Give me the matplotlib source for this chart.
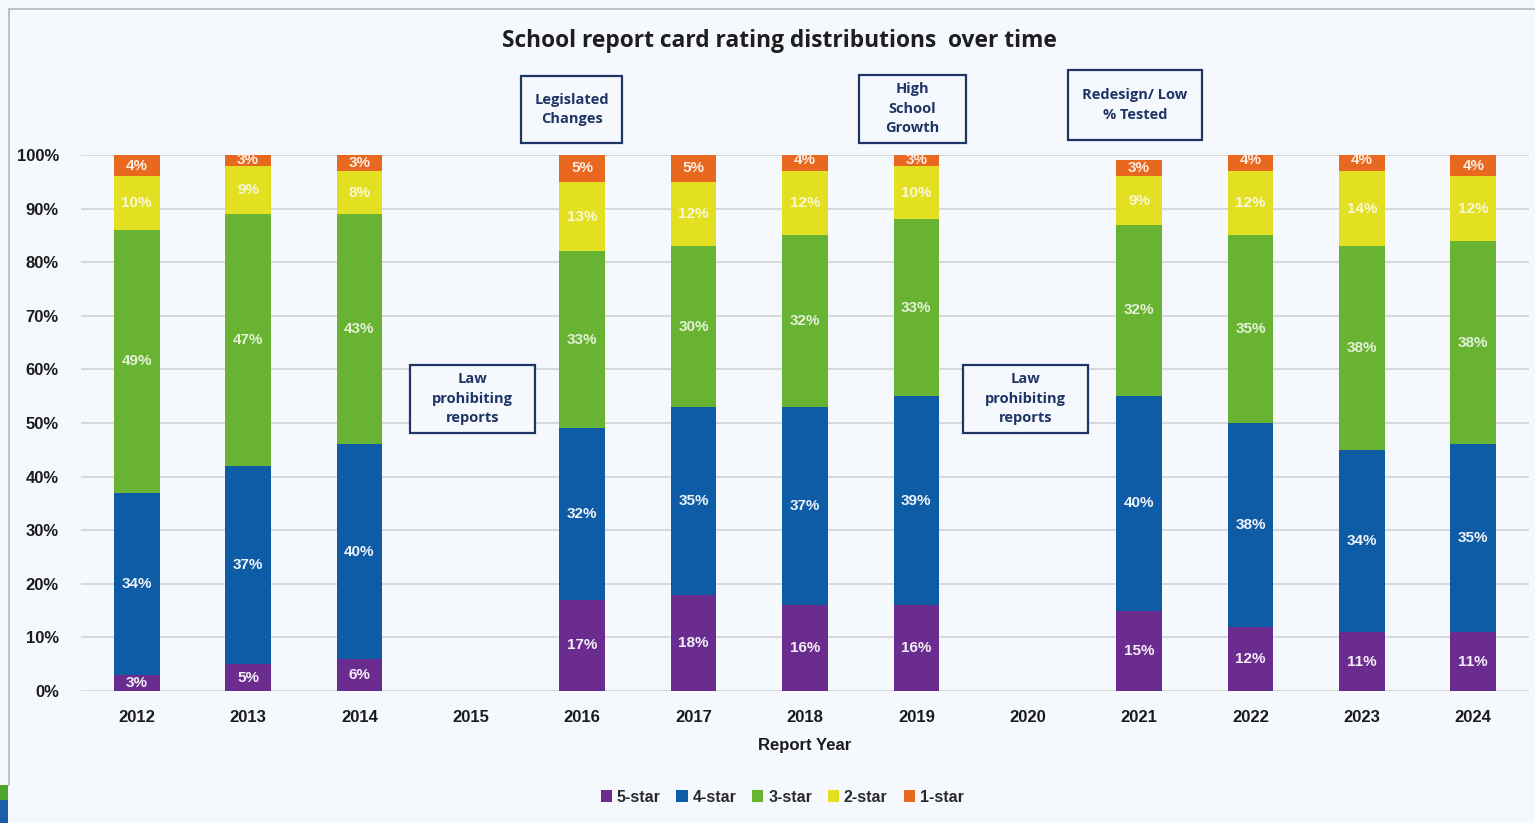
import matplotlib
matplotlib.use("Agg")
import matplotlib.pyplot as plt
import matplotlib.patches as mpatches
import matplotlib.lines as mlines
import numpy as np

# ---- data -------------------------------------------------------------
years = ["2012", "2013", "2014", "2015", "2016", "2017", "2018",
         "2019", "2020", "2021", "2022", "2023", "2024"]
# percentages of schools per rating; None = no reports issued that year
five_star  = [3, 5, 6, None, 17, 18, 16, 16, None, 15, 12, 11, 11]
four_star  = [34, 37, 40, None, 32, 35, 37, 39, None, 40, 38, 34, 35]
three_star = [49, 47, 43, None, 33, 30, 32, 33, None, 32, 35, 38, 38]
two_star   = [10, 9, 8, None, 13, 12, 12, 10, None, 9, 12, 14, 12]
one_star   = [4, 3, 3, None, 5, 5, 4, 3, None, 3, 4, 4, 4]

series_names = ["5-star", "4-star", "3-star", "2-star", "1-star"]
series_vals = [five_star, four_star, three_star, two_star, one_star]
series_colors = ["#6B2C8F", "#0E5CA5", "#68B332", "#E2E020", "#E8681F"]
label_colors = ["#F4EEF8", "#EEF3FA", "#E4F2D8", "#F8F8D8", "#FBEDE2"]

notes_top = ["Legislated\nChanges", "High\nSchool\nGrowth", "Redesign/ Low\n% Tested"]
notes_mid = ["Law\nprohibiting\nreports", "Law\nprohibiting\nreports"]

# ---- figure -----------------------------------------------------------
W, H = 1535, 823
bg = "#F5F8FC"
fig = plt.figure(figsize=(W / 100, H / 100), dpi=100, facecolor=bg)


def fx(px):
    return px / W


def fy(py):
    return 1 - py / H


ax = fig.add_axes([fx(81), fy(691), fx(1529) - fx(81), fy(155) - fy(691)])
ax.set_facecolor(bg)

x = np.arange(len(years))
bottom = np.zeros(len(years))
bar_w = 0.41
for name, vals, col, lcol in zip(series_names, series_vals, series_colors, label_colors):
    v = np.array([np.nan if a is None else a for a in vals], dtype=float)
    h = np.nan_to_num(v)
    ax.bar(x, h, bar_w, bottom=bottom, color=col, label=name, zorder=3)
    for i in range(len(years)):
        if not np.isnan(v[i]):
            yc = min(bottom[i] + h[i] / 2, 99.0)
            ax.text(x[i], yc, f"{int(v[i])}%", ha="center", va="center",
                    color=lcol, fontsize=11, fontweight="bold",
                    family="Liberation Sans", zorder=4)
    bottom += h

ax.set_xlim(-0.5, len(years) - 0.5)
ax.set_ylim(0, 100)
ax.set_yticks(np.arange(0, 101, 10))
ax.set_yticklabels([f"{t}%" for t in range(0, 101, 10)])
ax.set_xticks(x)
ax.set_xticklabels(years)
for lab in ax.get_xticklabels() + ax.get_yticklabels():
    lab.set_fontweight("bold")
    lab.set_fontsize(12)
    lab.set_family("Liberation Sans")
    lab.set_color("#1A1A1A")
ax.tick_params(axis="both", length=0)
ax.tick_params(axis="y", pad=16)
ax.tick_params(axis="x", pad=14)
ax.grid(axis="y", color="#CFCFD2", linewidth=1.1, zorder=0)
for s in ax.spines.values():
    s.set_visible(False)

ax.set_xlabel("Report Year", fontsize=12, fontweight="bold",
              family="Liberation Sans", color="#1A1A1A", labelpad=9)

fig.text(fx(779), fy(41), "School report card rating distributions  over time",
         ha="center", va="center", fontsize=16.4, fontweight="bold",
         family="Open Sans", color="#1E1E1E")

# chart-area frame: top and left edges
frame_col = "#B8B8BC"
fig.add_artist(mlines.Line2D([fx(9), fx(1535)], [fy(9), fy(9)],
                             transform=fig.transFigure, color=frame_col, linewidth=1.2))
fig.add_artist(mlines.Line2D([fx(9), fx(9)], [fy(9), fy(785)],
                             transform=fig.transFigure, color=frame_col, linewidth=1.2))
# slide edge strips at lower left
fig.add_artist(mpatches.Rectangle((0, fy(800)), fx(8), fy(785) - fy(800),
                                  transform=fig.transFigure, color="#4FA42E", linewidth=0))
fig.add_artist(mpatches.Rectangle((0, 0), fx(8), fy(800),
                                  transform=fig.transFigure, color="#1A5DAA", linewidth=0))

# annotation boxes (left, top, right, bottom in pixels)
navy = "#1F3566"
boxes = [
    (521, 76, 622, 143, notes_top[0]),
    (859, 75, 966, 143, notes_top[1]),
    (1068, 70, 1202, 140, notes_top[2]),
    (410, 365, 535, 433, notes_mid[0]),
    (963, 365, 1088, 433, notes_mid[1]),
]
for l, t, r, b, txt in boxes:
    fig.add_artist(mpatches.Rectangle((fx(l), fy(b)), fx(r) - fx(l), fy(t) - fy(b),
                                      transform=fig.transFigure, facecolor=bg,
                                      edgecolor=navy, linewidth=1.6, zorder=5))
    fig.text(fx((l + r) / 2), fy((t + b) / 2), txt, ha="center", va="center",
             fontsize=10.5, fontweight="bold", family="Open Sans",
             color=navy, linespacing=1.5, zorder=6)

leg = fig.legend(loc="center", bbox_to_anchor=(fx(782), fy(797)), ncol=5,
                 frameon=False, handlelength=0.7, handleheight=0.7,
                 handletextpad=0.3, columnspacing=1.0,
                 prop={"family": "Liberation Sans", "weight": "bold", "size": 11.5})
for t in leg.get_texts():
    t.set_color("#2A2A2A")

fig.savefig("out.png", dpi=100, facecolor=bg)
